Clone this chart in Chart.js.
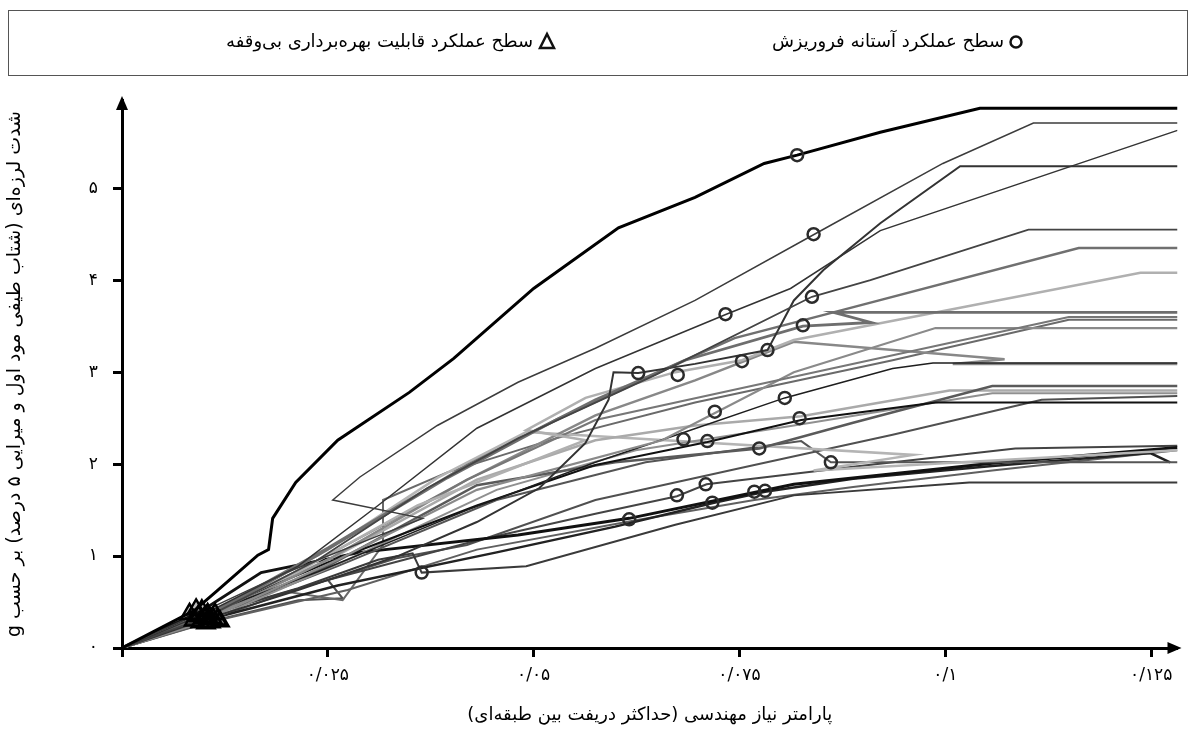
<!DOCTYPE html>
<html lang="fa">
<head>
<meta charset="utf-8">
<title>IDA curves</title>
<script src="https://cdn.jsdelivr.net/npm/chart.js@4.4.1/dist/chart.umd.min.js"></script>
<style>
  html, body { margin: 0; padding: 0; background: #fff; }
  #wrap { position: relative; width: 1190px; height: 729px; }
</style>
</head>
<body>
<div id="wrap"><canvas id="ida" dir="rtl"></canvas></div>
<script>
// IDA curves: [max inter-storey drift, Sa(T1, 5%) in g]
const r01 = [[0,0],[0.0088,0.41],[0.0114,0.61],[0.0165,1.01],[0.0178,1.07],[0.0183,1.41],[0.0211,1.80],[0.0262,2.26],[0.0349,2.78],[0.0403,3.15],[0.0500,3.91],[0.0603,4.57],[0.0696,4.90],[0.0780,5.27],[0.0820,5.36],[0.0921,5.61],[0.1042,5.87],[0.1282,5.87]];
const r02 = [[0,0],[0.0094,0.38],[0.0202,0.83],[0.0311,1.22],[0.0365,1.41],[0.0256,1.61],[0.0289,1.86],[0.0383,2.42],[0.0481,2.89],[0.0575,3.26],[0.0696,3.78],[0.0841,4.50],[0.0997,5.27],[0.1107,5.71],[0.1282,5.71]];
const r03 = [[0,0],[0.0100,0.37],[0.0214,0.89],[0.0311,1.55],[0.0431,2.39],[0.0575,3.04],[0.0734,3.63],[0.0812,3.91],[0.0921,4.54],[0.1282,5.63]];
const r04 = [[0,0],[0.0106,0.35],[0.0238,0.96],[0.0371,1.74],[0.0481,2.28],[0.0648,2.97],[0.0838,3.82],[0.0909,4.00],[0.1101,4.55],[0.1282,4.55]];
const r05 = [[0,0],[0.0094,0.29],[0.0214,0.63],[0.0335,1.00],[0.0431,1.37],[0.0507,1.74],[0.0563,2.23],[0.0591,2.70],[0.0597,3.00],[0.0627,2.99],[0.0696,3.09],[0.0784,3.24],[0.0816,3.78],[0.0852,4.11],[0.0921,4.62],[0.1018,5.24],[0.1282,5.24]];
const r06 = [[0,0],[0.0100,0.33],[0.0238,1.01],[0.0395,1.85],[0.0527,2.48],[0.0684,3.13],[0.0827,3.50],[0.0910,3.54],[0.0864,3.65],[0.1282,3.65]];
const r07 = [[0,0],[0.0100,0.34],[0.0250,1.09],[0.0419,1.99],[0.0575,2.70],[0.0744,3.37],[0.0864,3.65],[0.1162,4.35],[0.1282,4.35]];
const r08 = [[0,0],[0.0100,0.36],[0.0214,0.83],[0.0359,1.55],[0.0563,2.26],[0.0491,2.37],[0.0563,2.72],[0.0672,3.00],[0.0753,3.13],[0.0816,3.35],[0.1237,4.08],[0.1282,4.08]];
const r09 = [[0,0],[0.0104,0.34],[0.0250,1.01],[0.0419,1.83],[0.0575,2.48],[0.0816,2.95],[0.1150,3.60],[0.1282,3.60]];
const r10 = [[0,0],[0.0106,0.32],[0.0262,0.96],[0.0431,1.72],[0.0656,2.26],[0.0719,2.55],[0.0816,3.00],[0.0988,3.48],[0.1282,3.48]];
const r11 = [[0,0],[0.0094,0.34],[0.0238,0.83],[0.0419,1.50],[0.0575,2.02],[0.0684,2.35],[0.0805,2.72],[0.0936,3.04],[0.0985,3.10],[0.1282,3.10]];
const r12 = [[0,0],[0.0100,0.30],[0.0250,0.96],[0.0419,1.83],[0.0575,2.53],[0.0696,2.91],[0.0816,3.33],[0.1072,3.14],[0.1009,3.09],[0.1282,3.09]];
const r13 = [[0,0],[0.0094,0.35],[0.0250,0.93],[0.0431,1.55],[0.0575,1.99],[0.0711,2.24],[0.0825,2.48],[0.0988,2.67],[0.1282,2.67]];
const r14 = [[0,0],[0.0100,0.32],[0.0250,0.89],[0.0431,1.77],[0.0599,2.02],[0.0774,2.17],[0.0888,2.45],[0.1057,2.85],[0.1282,2.85]];
const r15 = [[0,0],[0.0104,0.35],[0.0262,1.01],[0.0431,1.83],[0.0575,2.26],[0.0696,2.42],[0.0825,2.52],[0.1005,2.80],[0.1282,2.80]];
const r16 = [[0,0],[0.0106,0.30],[0.0274,0.96],[0.0455,1.72],[0.0624,2.15],[0.0816,2.42],[0.1057,2.77],[0.1282,2.77]];
const r17 = [[0,0],[0.0100,0.34],[0.0250,1.07],[0.0383,1.85],[0.0491,2.35],[0.0961,2.10],[0.0840,1.93],[0.1282,2.15]];
const r18 = [[0,0],[0.0094,0.30],[0.0262,0.89],[0.0455,1.61],[0.0636,2.02],[0.0825,2.25],[0.0861,2.02],[0.1282,2.02]];
const r19 = [[0,0],[0.0094,0.39],[0.0169,0.82],[0.0289,1.04],[0.0481,1.23],[0.0616,1.41],[0.0816,1.78],[0.1057,2.01],[0.1282,2.18]];
const r20 = [[0,0],[0.0100,0.35],[0.0214,0.65],[0.0311,0.96],[0.0353,1.03],[0.0364,0.82],[0.0491,0.89],[0.0672,1.34],[0.0816,1.66],[0.1029,1.80],[0.1282,1.80]];
const r21 = [[0,0],[0.0094,0.33],[0.0250,0.74],[0.0431,1.17],[0.0575,1.46],[0.0674,1.65],[0.0710,1.78],[0.0888,1.97],[0.1085,2.17],[0.1282,2.20]];
const r22 = [[0,0],[0.0100,0.30],[0.0262,0.68],[0.0455,1.04],[0.0599,1.32],[0.0719,1.58],[0.0781,1.70],[0.0888,1.84],[0.1057,1.98],[0.1249,2.12],[0.1273,2.02]];
const r23 = [[0,0],[0.0106,0.28],[0.0274,0.63],[0.0431,1.07],[0.0624,1.39],[0.0768,1.61],[0.0888,1.75],[0.1057,1.93],[0.1282,2.15]];
const r24 = [[0,0],[0.0100,0.28],[0.0202,0.61],[0.0268,0.52],[0.0317,1.12],[0.0317,1.61],[0.0395,1.91],[0.0527,2.28],[0.0696,2.67],[0.0936,3.13],[0.1150,3.57],[0.1282,3.57]];
const r25 = [[0,0],[0.0112,0.30],[0.0214,0.52],[0.0268,0.54],[0.0250,0.74],[0.0335,0.98],[0.0419,1.12],[0.0575,1.61],[0.0768,1.99],[0.0936,2.32],[0.1117,2.70],[0.1282,2.74]];

// collapse prevention points (circles)
const cpDrift = [0.0820,0.0840,0.0838,0.0733,0.0827,0.0627,0.0675,0.0784,0.0753,0.0720,0.0805,0.0823,0.0682,0.0711,0.0774,0.0861,0.0674,0.0709,0.0717,0.0768,0.0781,0.0616,0.0364];
const cpSa    = [5.36,4.50,3.82,3.63,3.51,2.99,2.97,3.24,3.12,2.57,2.72,2.50,2.27,2.25,2.17,2.02,1.66,1.78,1.58,1.70,1.71,1.40,0.82];

// immediate occupancy points (triangles)
const ioDrift = [0.0082,0.0090,0.0097,0.0104,0.0110,0.0116,0.0119,0.0087,0.0095,0.0102,0.0108,0.0100,0.0093,0.0113,0.0105];
const ioSa    = [0.37,0.42,0.41,0.37,0.33,0.31,0.29,0.30,0.28,0.27,0.28,0.33,0.35,0.37,0.31];

const legendLabels = ['سطح عملکرد آستانه فروریزش', 'سطح عملکرد قابلیت بهره‌برداری بی‌وقفه'];
const xTitle = 'پارامتر نیاز مهندسی (حداکثر دریفت بین طبقه‌ای)';
const yTitle = 'شدت لرزه‌ای (شتاب طیفی مود اول و میرایی ۵ درصد) بر حسب g';

const curves = [r01,r02,r03,r04,r05,r06,r07,r08,r09,r10,r11,r12,r13,r14,r15,r16,r17,r18,r19,r20,r21,r22,r23,r24,r25];
const curveStyle = [
  ['#000', 3], ['#3c3c3c', 1.5], ['#333', 1.5], ['#444', 1.8], ['#333', 2],
  ['#6e6e6e', 2.8], ['#707070', 2.5], ['#b0b0b0', 2.5], ['#777', 2.2], ['#8a8a8a', 2.2],
  ['#1e1e1e', 1.5], ['#888', 2.5], ['#111', 2], ['#5a5a5a', 2.5], ['#aaa', 2.5],
  ['#909090', 2], ['#b5b5b5', 2.5], ['#555', 2], ['#111', 3], ['#3a3a3a', 2],
  ['#444', 2], ['#222', 2.5], ['#606060', 2], ['#6a6a6a', 2], ['#505050', 2]
];

const FA_DIGITS = '۰۱۲۳۴۵۶۷۸۹';
const toFa = s => String(s).replace(/[0-9]/g, d => FA_DIGITS[d]).replace('.', '/');
const FONT = '"DejaVu Sans", sans-serif';

const pts = (xs, ys) => xs.map((x, i) => ({ x, y: ys[i] }));

const datasets = [
  {
    label: legendLabels[0],
    data: pts(cpDrift, cpSa),
    showLine: false,
    pointStyle: 'circle',
    pointRadius: 6,
    borderWidth: 2.5,
    borderColor: '#2b2b2b',
    backgroundColor: 'rgba(0,0,0,0)',
    order: 0
  },
  {
    label: legendLabels[1],
    data: pts(ioDrift, ioSa),
    showLine: false,
    pointStyle: 'triangle',
    pointRadius: 10,
    borderWidth: 2.5,
    borderColor: '#000',
    backgroundColor: 'rgba(0,0,0,0.25)',
    order: 0
  },
  ...curves.map((c, i) => ({
    label: 'IDA ' + (i + 1),
    data: c.map(([x, y]) => ({ x, y })),
    borderColor: curveStyle[i][0],
    borderWidth: curveStyle[i][1],
    pointRadius: 0,
    tension: 0,
    fill: false,
    order: 1
  }))
];

// legend box + axis arrow heads
const decor = {
  id: 'decor',
  afterDraw(chart) {
    const g = chart.ctx;
    const { left, right, top, bottom } = chart.chartArea;
    g.save();
    g.fillStyle = '#000';
    g.beginPath();
    g.moveTo(right + 4, bottom); g.lineTo(right - 10, bottom - 6); g.lineTo(right - 10, bottom + 6);
    g.closePath(); g.fill();
    g.beginPath();
    g.moveTo(left, top - 4); g.lineTo(left - 6, top + 10); g.lineTo(left + 6, top + 10);
    g.closePath(); g.fill();

    // legend frame
    g.strokeStyle = '#555';
    g.lineWidth = 1;
    g.strokeRect(8.5, 10.5, 1179, 65);

    g.font = '18px ' + FONT;
    g.direction = 'rtl';
    g.textAlign = 'right';
    g.textBaseline = 'middle';
    g.fillStyle = '#000';
    const ly = 42;
    // circle item
    g.lineWidth = 2.5;
    g.strokeStyle = '#111';
    g.beginPath(); g.arc(1016, ly, 5.5, 0, Math.PI * 2); g.stroke();
    g.fillText(chart.data.datasets[0].label, 1004, ly);
    // triangle item
    g.beginPath();
    g.moveTo(547, ly - 8); g.lineTo(540, ly + 6); g.lineTo(554, ly + 6);
    g.closePath(); g.stroke();
    g.fillText(chart.data.datasets[1].label, 533, ly);
    g.restore();
  }
};

new Chart(document.getElementById('ida'), {
  type: 'line',
  data: { datasets },
  options: {
    responsive: true,
    maintainAspectRatio: false,
    animation: false,
    layout: { padding: { top: 100, right: 4, left: 0, bottom: 0 } },
    plugins: {
      legend: { display: false },
      tooltip: { enabled: false }
    },
    scales: {
      x: {
        type: 'linear',
        min: 0,
        max: 0.1282,
        afterFit: s => { s.height = 81; },
        border: { color: '#000', width: 3 },
        grid: { drawOnChartArea: false, tickLength: 9, tickWidth: 3, tickColor: '#000' },
        ticks: {
          stepSize: 0.025,
          includeBounds: false,
          maxRotation: 0,
          padding: 8,
          color: '#000',
          font: { family: FONT, size: 17 },
          callback: v => v === 0 ? '' : toFa(parseFloat(v.toFixed(3)))
        },
        title: {
          display: true,
          text: xTitle,
          color: '#000',
          font: { family: FONT, size: 18 },
          padding: { top: 0, bottom: 3 }
        }
      },
      y: {
        type: 'linear',
        min: 0,
        max: 5.96,
        afterFit: s => { s.width = 122; },
        border: { color: '#000', width: 3 },
        grid: { drawOnChartArea: false, tickLength: 9, tickWidth: 3, tickColor: '#000' },
        ticks: {
          stepSize: 1,
          includeBounds: false,
          padding: 15,
          color: '#000',
          font: { family: FONT, size: 17 },
          callback: v => toFa(v)
        },
        title: {
          display: true,
          text: yTitle,
          color: '#000',
          font: { family: FONT, size: 19 },
          padding: { top: 4, bottom: 0 }
        }
      }
    }
  },
  plugins: [decor]
});
</script>
</body>
</html>
